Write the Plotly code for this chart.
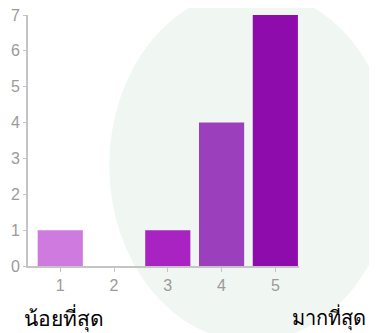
import plotly.graph_objects as go

# rating scale 1..5 and number of answers
ratings = [1, 2, 3, 4, 5]
counts = [1, 0, 1, 4, 7]
bar_colors = ["#cf7ade", "#cf7ade", "#a823c2", "#9c3fbd", "#8e0cab"]
y_ticks = [0, 1, 2, 3, 4, 5, 6, 7]

fig = go.Figure()

fig.add_trace(go.Bar(
    x=ratings, y=counts,
    marker=dict(color=bar_colors, line=dict(width=0)),
    showlegend=False))

# faint watermark behind the bars
fig.add_shape(type="circle", xref="paper", yref="paper",
              x0=0.3, x1=1.35, y0=-0.3, y1=1.1,
              fillcolor="rgba(195,218,198,0.25)", line=dict(width=0), layer="below")

tick_font = dict(family="Liberation Sans, Arial", size=16, color="#9a9a9a")

# page has an 8px body margin, so the margins are shifted by that
fig.update_layout(
    width=377, height=333,
    margin=dict(l=20, r=86, t=7, b=75, autoexpand=False),
    plot_bgcolor="rgba(0,0,0,0)",
    paper_bgcolor="white",
    bargap=0.16,
    xaxis=dict(range=[0.4, 5.44], tickvals=ratings, showgrid=False, zeroline=False,
               showline=True, linecolor="#c4c4c4", linewidth=2, automargin=False,
               ticks="outside", ticklen=4, tickcolor="#c4c4c4", tickfont=tick_font),
    yaxis=dict(range=[0, 7], tickvals=y_ticks, showgrid=False, zeroline=False,
               showline=True, linecolor="#c4c4c4", linewidth=2, automargin=False,
               ticks="outside", ticklen=3, tickcolor="#c4c4c4", ticklabeloverflow="allow",
               tickfont=tick_font),
    annotations=[
        dict(text="น้อยที่สุด", xref="paper", yref="paper", x=-0.022, y=-0.207,
             xanchor="left", yanchor="middle", showarrow=False,
             font=dict(size=21, color="black")),
        dict(text="มากที่สุด", xref="paper", yref="paper", x=1.255, y=-0.207,
             xanchor="right", yanchor="middle", showarrow=False,
             font=dict(size=20, color="black")),
    ],
)

fig.write_html("out.html")
